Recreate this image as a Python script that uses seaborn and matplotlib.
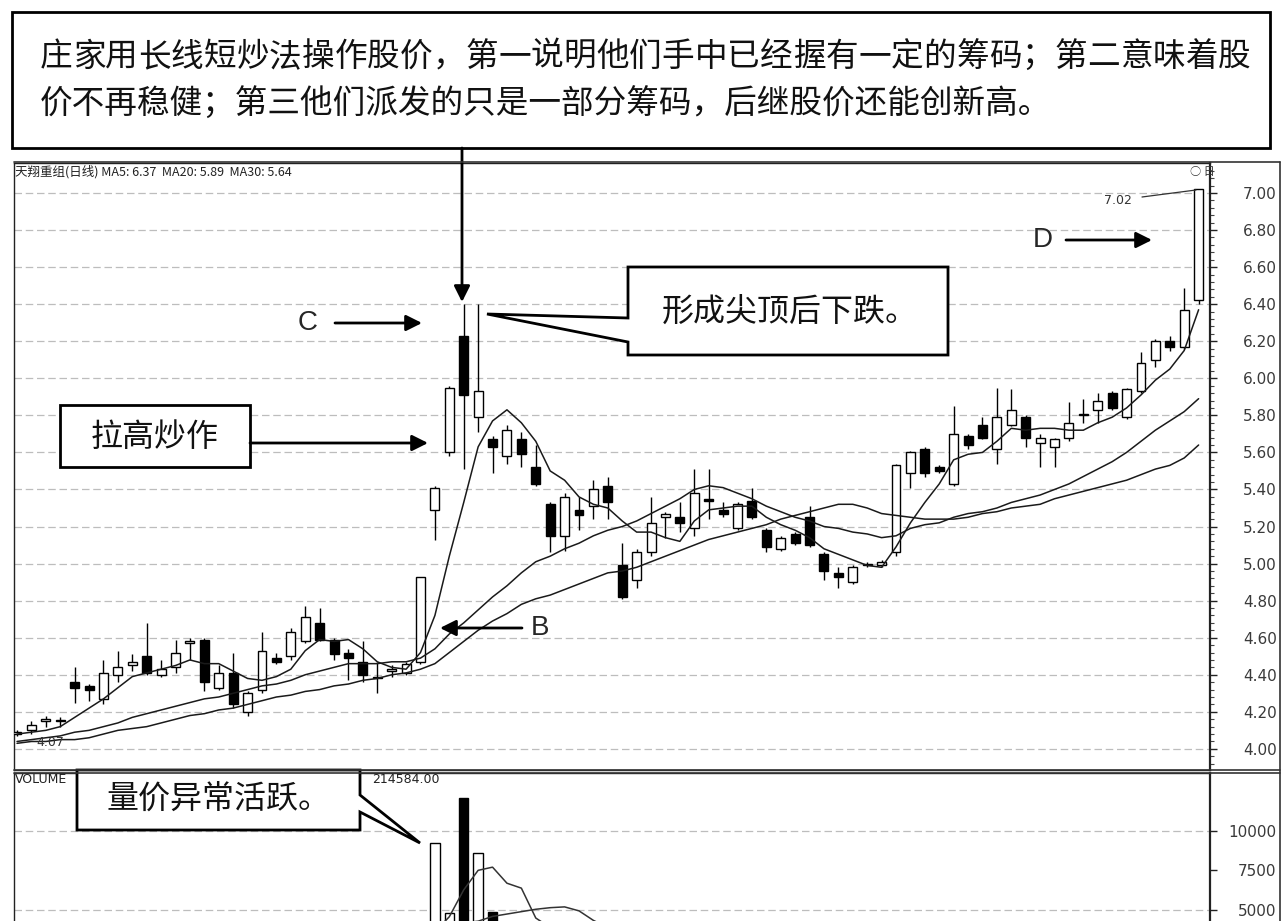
import numpy as np
import pandas as pd
import seaborn as sns
import matplotlib.pyplot as plt
from matplotlib.patches import Rectangle, Polygon, FancyArrowPatch
from matplotlib.lines import Line2D

W, H = 1283, 921

# daily candles
opens = [4.08, 4.10, 4.15, 4.15, 4.36, 4.34, 4.27, 4.40, 4.45, 4.50,
         4.40, 4.44, 4.57, 4.59, 4.33, 4.41, 4.20, 4.32, 4.49, 4.50,
         4.58, 4.68, 4.59, 4.52, 4.47, 4.38, 4.42, 4.41, 4.47, 5.29,
         5.60, 6.23, 5.79, 5.67, 5.58, 5.67, 5.52, 5.32, 5.15, 5.29,
         5.31, 5.42, 4.99, 4.91, 5.06, 5.25, 5.25, 5.19, 5.35, 5.29,
         5.19, 5.34, 5.18, 5.08, 5.16, 5.25, 5.05, 4.95, 4.90, 4.99,
         4.99, 5.06, 5.49, 5.62, 5.52, 5.43, 5.69, 5.75, 5.62, 5.75,
         5.79, 5.65, 5.63, 5.68, 5.80, 5.83, 5.92, 5.79, 5.93, 6.10,
         6.20, 6.17, 6.42]
highs = [4.10, 4.15, 4.18, 4.17, 4.44, 4.35, 4.48, 4.53, 4.51, 4.68,
         4.48, 4.59, 4.60, 4.60, 4.45, 4.52, 4.31, 4.63, 4.52, 4.65,
         4.77, 4.76, 4.60, 4.54, 4.58, 4.47, 4.45, 4.47, 4.93, 5.42,
         5.96, 6.40, 6.40, 5.69, 5.75, 5.71, 5.64, 5.33, 5.38, 5.36,
         5.45, 5.47, 5.11, 5.08, 5.36, 5.28, 5.33, 5.51, 5.51, 5.33,
         5.33, 5.41, 5.19, 5.15, 5.17, 5.31, 5.06, 4.98, 4.99, 5.01,
         5.02, 5.54, 5.61, 5.63, 5.53, 5.85, 5.70, 5.79, 5.95, 5.94,
         5.80, 5.70, 5.68, 5.87, 5.89, 5.92, 5.93, 5.95, 6.14, 6.21,
         6.23, 6.49, 7.02]
lows = [4.07, 4.08, 4.12, 4.12, 4.25, 4.26, 4.24, 4.36, 4.42, 4.40,
        4.39, 4.41, 4.48, 4.31, 4.32, 4.22, 4.18, 4.30, 4.46, 4.48,
        4.57, 4.58, 4.48, 4.37, 4.36, 4.30, 4.39, 4.40, 4.46, 5.13,
        5.58, 5.51, 5.71, 5.49, 5.54, 5.52, 5.42, 5.06, 5.07, 5.18,
        5.24, 5.24, 4.81, 4.87, 5.04, 5.14, 5.17, 5.15, 5.24, 5.25,
        5.18, 5.24, 5.06, 5.07, 5.10, 5.09, 4.91, 4.87, 4.89, 4.98,
        4.98, 5.04, 5.41, 5.47, 5.49, 5.42, 5.62, 5.67, 5.54, 5.74,
        5.63, 5.52, 5.52, 5.66, 5.76, 5.76, 5.83, 5.78, 5.92, 6.06,
        6.15, 6.16, 6.40]
closes = [4.09, 4.13, 4.16, 4.15, 4.33, 4.32, 4.41, 4.44, 4.47, 4.41,
          4.43, 4.52, 4.58, 4.36, 4.41, 4.24, 4.30, 4.53, 4.47, 4.63,
          4.71, 4.59, 4.51, 4.49, 4.40, 4.38, 4.43, 4.46, 4.93, 5.41,
          5.95, 5.91, 5.93, 5.63, 5.72, 5.59, 5.43, 5.15, 5.36, 5.26,
          5.40, 5.33, 4.82, 5.06, 5.22, 5.27, 5.22, 5.38, 5.34, 5.27,
          5.32, 5.25, 5.09, 5.14, 5.11, 5.10, 4.96, 4.93, 4.98, 5.00,
          5.01, 5.53, 5.60, 5.49, 5.50, 5.70, 5.64, 5.68, 5.79, 5.83,
          5.68, 5.68, 5.67, 5.76, 5.80, 5.88, 5.84, 5.94, 6.08, 6.20,
          6.17, 6.37, 7.02]

# moving average lines as drawn
ma5 = [4.08, 4.09, 4.10, 4.12, 4.17, 4.22, 4.27, 4.33, 4.39, 4.41,
       4.43, 4.45, 4.48, 4.46, 4.46, 4.42, 4.38, 4.37, 4.39, 4.43,
       4.53, 4.59, 4.58, 4.59, 4.54, 4.47, 4.44, 4.43, 4.52, 4.72,
       5.04, 5.33, 5.63, 5.77, 5.83, 5.76, 5.66, 5.50, 5.45, 5.36,
       5.32, 5.30, 5.23, 5.17, 5.17, 5.14, 5.12, 5.23, 5.29, 5.30,
       5.31, 5.31, 5.25, 5.21, 5.18, 5.14, 5.08, 5.05, 5.02, 4.99,
       4.98, 5.09, 5.22, 5.33, 5.43, 5.56, 5.59, 5.60, 5.66, 5.73,
       5.72, 5.73, 5.73, 5.72, 5.72, 5.76, 5.79, 5.84, 5.91, 5.99,
       6.05, 6.15, 6.37]
ma20 = [4.04, 4.05, 4.06, 4.07, 4.09, 4.10, 4.12, 4.14, 4.17, 4.19,
        4.21, 4.23, 4.25, 4.27, 4.28, 4.30, 4.32, 4.34, 4.35, 4.37,
        4.40, 4.42, 4.44, 4.46, 4.46, 4.46, 4.47, 4.47, 4.49, 4.54,
        4.62, 4.68, 4.75, 4.82, 4.88, 4.95, 5.01, 5.04, 5.08, 5.11,
        5.15, 5.18, 5.20, 5.23, 5.27, 5.31, 5.35, 5.40, 5.42, 5.41,
        5.38, 5.35, 5.31, 5.28, 5.25, 5.23, 5.20, 5.19, 5.17, 5.16,
        5.14, 5.15, 5.19, 5.21, 5.22, 5.25, 5.27, 5.28, 5.30, 5.33,
        5.35, 5.37, 5.40, 5.43, 5.47, 5.51, 5.55, 5.60, 5.66, 5.72,
        5.77, 5.82, 5.89]
ma30 = [4.03, 4.04, 4.04, 4.05, 4.05, 4.06, 4.08, 4.10, 4.11, 4.12,
        4.14, 4.16, 4.18, 4.19, 4.21, 4.22, 4.24, 4.26, 4.28, 4.29,
        4.31, 4.32, 4.34, 4.35, 4.37, 4.38, 4.40, 4.41, 4.43, 4.46,
        4.52, 4.58, 4.64, 4.69, 4.73, 4.78, 4.81, 4.83, 4.86, 4.89,
        4.92, 4.95, 4.96, 4.98, 5.01, 5.04, 5.07, 5.10, 5.13, 5.15,
        5.17, 5.19, 5.21, 5.24, 5.26, 5.28, 5.30, 5.32, 5.32, 5.30,
        5.27, 5.26, 5.25, 5.24, 5.24, 5.24, 5.25, 5.27, 5.28, 5.30,
        5.31, 5.32, 5.35, 5.37, 5.39, 5.41, 5.43, 5.45, 5.48, 5.51,
        5.53, 5.57, 5.64]

# volume panel (only the top of the tallest bars is visible)
volume = [2100, 1900, 2000, 1800, 2600, 2300, 2500, 2400, 2200, 2600,
          2000, 2300, 2400, 2700, 2100, 2500, 2200, 2800, 2000, 2400,
          2600, 2500, 2100, 2000, 2200, 1900, 1800, 2000, 3300, 9190,
          4800, 12060, 8620, 4880, 3100, 3200, 2700, 3000, 2600, 2300,
          2400, 2200, 2900, 2300, 2500, 2000, 1900, 2400, 2300, 1900,
          1800, 2100, 2200, 1700, 1600, 1900, 2100, 1800, 1700, 1500,
          1600, 3600, 2900, 2500, 2000, 2700, 2200, 2100, 2600, 2400,
          2300, 2000, 1900, 2200, 2100, 2300, 2200, 2400, 2600, 2500,
          2300, 2800, 2400]
vol_ma5 = [2100, 2050, 2000, 1950, 2080, 2120, 2240, 2320, 2400, 2400,
           2340, 2300, 2300, 2440, 2300, 2400, 2380, 2460, 2320, 2380,
           2400, 2460, 2420, 2320, 2280, 2140, 2000, 1980, 2240, 3640,
           4580, 6270, 7500, 7700, 6690, 6380, 4500, 3900, 2920, 2760,
           2500, 2500, 2480, 2460, 2460, 2380, 2320, 2220, 2220, 2100,
           2060, 2100, 2020, 1940, 1880, 1900, 1900, 1860, 1820, 1740,
           1740, 2100, 2260, 2420, 2520, 2740, 2460, 2300, 2420, 2400,
           2320, 2280, 2240, 2200, 2100, 2140, 2240, 2240, 2380, 2400,
           2400, 2520, 2520]
vol_ma10 = [2200, 2150, 2100, 2100, 2150, 2150, 2200, 2250, 2250, 2240,
            2220, 2270, 2310, 2380, 2350, 2350, 2340, 2380, 2380, 2340,
            2350, 2380, 2400, 2370, 2330, 2270, 2230, 2200, 2280, 3010,
            3490, 4200, 4300, 4600, 4750, 4900, 5050, 5150, 5200, 4950,
            4350, 3900, 3650, 3200, 2700, 2450, 2400, 2350, 2340, 2280,
            2260, 2300, 2250, 2200, 2170, 2140, 2110, 2040, 1980, 1920,
            1900, 2000, 2080, 2180, 2200, 2240, 2280, 2300, 2470, 2460,
            2420, 2380, 2370, 2310, 2250, 2240, 2260, 2300, 2300, 2300,
            2300, 2380, 2420]

price_ticks = [4.00, 4.20, 4.40, 4.60, 4.80, 5.00, 5.20, 5.40, 5.60, 5.80,
               6.00, 6.20, 6.40, 6.60, 6.80, 7.00]
vol_ticks = [5000, 7500, 10000]
vol_grid = [5000, 10000]

header = '天翔重组(日线) MA5: 6.37  MA20: 5.89  MA30: 5.64'
top_note = ['庄家用长线短炒法操作股价，第一说明他们手中已经握有一定的筹码；第二意味着股',
            '价不再稳健；第三他们派发的只是一部分筹码，后继股价还能创新高。']

sns.set_theme(style='white')
plt.rcParams['font.family'] = ['Noto Sans CJK SC', 'DejaVu Sans']

df = pd.DataFrame({'open': opens, 'high': highs, 'low': lows, 'close': closes,
                   'ma5': ma5, 'ma20': ma20, 'ma30': ma30,
                   'volume': volume, 'vol_ma5': vol_ma5, 'vol_ma10': vol_ma10})
df['day'] = np.arange(len(df))
up = df['close'] >= df['open']
body_lo = df[['open', 'close']].min(axis=1)
body_h = (df['close'] - df['open']).abs().clip(lower=0.006)
face = np.where(up, 'white', 'black')


def fx(x):
    return x / W


def fy(y):
    return 1 - y / H


fig = plt.figure(figsize=(W / 100, H / 100), dpi=100)
ax = fig.add_axes([fx(14), fy(770), (1210 - 14) / W, (770 - 163) / H])
axv = fig.add_axes([fx(14), fy(921), (1210 - 14) / W, (921 - 773) / H], sharex=ax)

# price panel
ax.vlines(df['day'], df['low'], df['high'], color='black', lw=1, zorder=2)
ax.bar(df['day'], body_h, bottom=body_lo, width=0.62, color=face,
       edgecolor='black', linewidth=1, zorder=3)
for col in ['ma5', 'ma20', 'ma30']:
    sns.lineplot(data=df, x='day', y=col, ax=ax, color='#1a1a1a', lw=1.1, zorder=4)

ax.set_xlim(-0.21, 82.79)
ax.set_ylim(3.886, 7.162)
ax.set_xlabel('')
ax.set_ylabel('')
ax.yaxis.tick_right()
ax.set_yticks(price_ticks)
ax.set_yticklabels([f'{t:.2f}' for t in price_ticks])
ax.set_yticks(np.arange(3.92, 7.16, 0.04), minor=True)
ax.tick_params(axis='y', which='major', direction='out', length=5, width=1,
               color='#222', pad=43, labelsize=11, labelcolor='#3a3a3a')
ax.tick_params(axis='y', which='minor', direction='out', length=3, width=0.8, color='#444')
for t in ax.get_yticklabels():
    t.set_horizontalalignment('right')
    t.set_family('DejaVu Sans')
ax.tick_params(axis='x', bottom=False, labelbottom=False)
ax.grid(axis='y', which='major', color='#bdbdbd', ls=(0, (6, 3)), lw=0.9)
ax.set_axisbelow(True)

# volume panel
axv.bar(df['day'], df['volume'], width=0.65, color=face, edgecolor='black',
        linewidth=1, zorder=3)
sns.lineplot(data=df, x='day', y='vol_ma5', ax=axv, color='#333', lw=1.1, zorder=4)
sns.lineplot(data=df, x='day', y='vol_ma10', ax=axv, color='#333', lw=1.1, zorder=4)
axv.set_ylim(4312, 13625)
axv.set_xlabel('')
axv.set_ylabel('')
axv.yaxis.tick_right()
axv.set_yticks(vol_ticks)
axv.set_yticklabels([str(t) for t in vol_ticks])
axv.tick_params(axis='y', direction='out', length=5, width=1, color='#222',
                pad=43, labelsize=11, labelcolor='#3a3a3a')
for t in axv.get_yticklabels():
    t.set_horizontalalignment('right')
    t.set_family('DejaVu Sans')
axv.tick_params(axis='x', bottom=False, labelbottom=False)
for v in vol_grid:
    axv.axhline(v, color='#bdbdbd', ls=(0, (6, 3)), lw=0.9, zorder=1)

for a in (ax, axv):
    for s in a.spines.values():
        s.set_color('#222')
        s.set_linewidth(1)
    a.spines['right'].set_linewidth(1.6)
axv.spines['bottom'].set_visible(False)

# outer frame lines
for xs, ys, lw in [((14, 1280), (162, 162), 1.2), ((14, 1280), (770, 770), 1.2),
                   ((14, 1280), (773, 773), 1.2), ((1280, 1280), (162, 921), 1.2)]:
    fig.add_artist(Line2D([fx(xs[0]), fx(xs[1])], [fy(ys[0]), fy(ys[1])],
                          color='#333', lw=lw, transform=fig.transFigure))

# small panel texts
fig.text(fx(15), fy(172), header, fontsize=9, color='#222', va='center')
fig.text(fx(1190), fy(172), '○ 日', fontsize=8, color='#333', va='center')
fig.text(fx(1104), fy(200), '7.02', fontsize=9, color='#333', va='center', family='DejaVu Sans')
fig.add_artist(Line2D([fx(1142), fx(1196)], [fy(197), fy(190)], color='#333', lw=0.9,
                      transform=fig.transFigure))
fig.text(fx(36), fy(742), '4.07', fontsize=9, color='#333', va='center', family='DejaVu Sans')
fig.text(fx(15), fy(779), 'VOLUME', fontsize=9, color='#222', va='center', family='DejaVu Sans')
fig.text(fx(372), fy(779), '214584.00', fontsize=9, color='#222', va='center', family='DejaVu Sans')

# top note box
fig.add_artist(Rectangle((fx(12), fy(148)), fx(1270) - fx(12), fy(12) - fy(148),
                         transform=fig.transFigure, facecolor='white', edgecolor='black', lw=2))
line1 = top_note[0]
xs1 = np.linspace(40, 1218, len(line1))
for ch, x in zip(line1, xs1):
    fig.text(fx(x), fy(57), ch, fontsize=23.5, va='center', ha='left', color='#111')
fig.text(fx(40), fy(104), top_note[1], fontsize=23.5, va='center', ha='left', color='#111')


def arrow(p0, p1):
    fig.add_artist(FancyArrowPatch((fx(p0[0]), fy(p0[1])), (fx(p1[0]), fy(p1[1])),
                                   transform=fig.transFigure, arrowstyle='-|>',
                                   mutation_scale=24, lw=2, color='black',
                                   shrinkA=0, shrinkB=0))


def callout(pts, text, tx, ty):
    fig.add_artist(Polygon([(fx(x), fy(y)) for x, y in pts], closed=True,
                           transform=fig.transFigure, facecolor='white',
                           edgecolor='black', lw=2))
    fig.text(fx(tx), fy(ty), text, fontsize=23, ha='center', va='center', color='#111')


arrow((462, 148), (462, 302))
fig.text(fx(308), fy(323), 'C', fontsize=20, ha='center', va='center', family='Liberation Sans')
arrow((335, 323), (422, 323))
fig.text(fx(1043), fy(240), 'D', fontsize=20, ha='center', va='center', family='Liberation Sans')
arrow((1066, 240), (1152, 240))
fig.text(fx(540), fy(628), 'B', fontsize=20, ha='center', va='center', family='Liberation Sans')
arrow((522, 628), (440, 628))

callout([(628, 267), (948, 267), (948, 355), (628, 355), (628, 342), (487, 314), (628, 318)],
        '形成尖顶后下跌。', 790, 312)
callout([(60, 405), (250, 405), (250, 467), (60, 467)], '拉高炒作', 155, 437)
arrow((250, 443), (428, 443))
callout([(77, 770), (360, 770), (360, 795), (420, 843), (360, 812), (360, 830), (77, 830)],
        '量价异常活跃。', 218, 800)

fig.savefig('out.png', dpi=100)
